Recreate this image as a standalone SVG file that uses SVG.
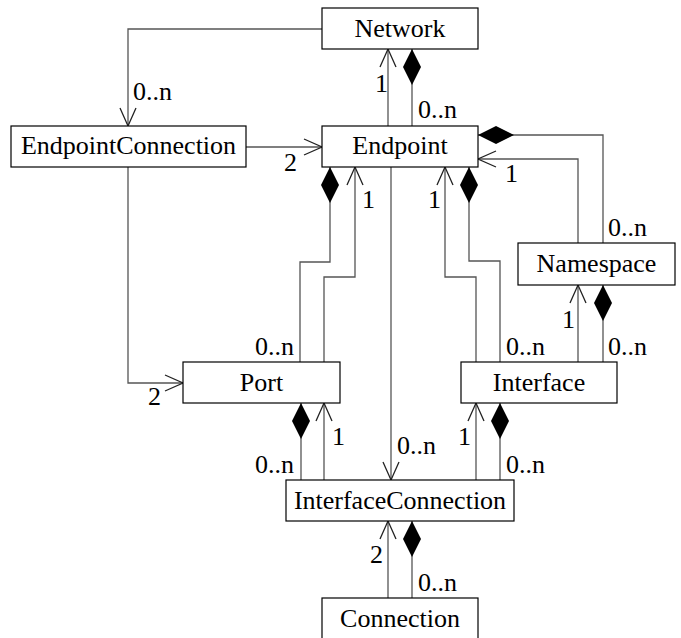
<svg xmlns="http://www.w3.org/2000/svg" width="681" height="638" viewBox="0 0 681 638" font-family="Liberation Serif, DejaVu Serif, serif">
<style>
.box{fill:#fff;stroke:#000;stroke-width:1.2}
.t{font-size:26px;fill:#000}
.c{text-anchor:middle}
.e{text-anchor:end}
.ln{fill:none;stroke:#555;stroke-width:1.3}
.arr{marker-end:url(#arrow)}
.dia{marker-start:url(#diamond)}
</style>
<defs>
<marker id="arrow" markerUnits="userSpaceOnUse" viewBox="-20 -10 22 20" refX="0" refY="0" markerWidth="22" markerHeight="20" orient="auto">
<path d="M-18,-8 L0,0 L-18,8" fill="none" stroke="#222" stroke-width="1.3"/>
</marker>
<marker id="diamond" markerUnits="userSpaceOnUse" viewBox="-1 -10 38 20" refX="0" refY="0" markerWidth="38" markerHeight="20" orient="auto">
<path d="M0,0 L18,-9 L36,0 L18,9 Z" fill="#000"/>
</marker>
</defs>
<g id="connectors">
<path class="ln arr" d="M322,29 H128 V126"/>
<path class="ln arr" d="M246,147 H322"/>
<path class="ln arr" d="M388,126 V49"/>
<path class="ln dia" d="M412,49 V126"/>
<path class="ln dia" d="M478,135 H603 V243"/>
<path class="ln arr" d="M578,243 V159 H478"/>
<path class="ln arr" d="M324,362 V277 H355 V167"/>
<path class="ln dia" d="M330,167 V262 H300 V362"/>
<path class="ln arr" d="M391,167 V480"/>
<path class="ln arr" d="M476,362 V277 H445 V167"/>
<path class="ln dia" d="M469,167 V261 H500 V362"/>
<path class="ln arr" d="M578,362 V285"/>
<path class="ln dia" d="M603,285 V362"/>
<path class="ln arr" d="M128,167 V383 H183"/>
<path class="ln arr" d="M324,480 V403"/>
<path class="ln dia" d="M301,403 V480"/>
<path class="ln arr" d="M476,480 V403"/>
<path class="ln dia" d="M500,403 V480"/>
<path class="ln arr" d="M388,598 V521"/>
<path class="ln dia" d="M412,521 V598"/>
<text class="t" x="133" y="100">0..n</text>
<text class="t" x="284" y="171">2</text>
<text class="t" x="375" y="92">1</text>
<text class="t" x="418" y="118">0..n</text>
<text class="t" x="608" y="236">0..n</text>
<text class="t" x="505" y="182">1</text>
<text class="t" x="362" y="208">1</text>
<text class="t e" x="294" y="355">0..n</text>
<text class="t" x="397" y="454">0..n</text>
<text class="t" x="428" y="208">1</text>
<text class="t" x="506" y="355">0..n</text>
<text class="t" x="562" y="328">1</text>
<text class="t" x="608" y="355">0..n</text>
<text class="t" x="148" y="405">2</text>
<text class="t" x="332" y="445">1</text>
<text class="t e" x="294" y="473">0..n</text>
<text class="t" x="458" y="445">1</text>
<text class="t" x="506" y="473">0..n</text>
<text class="t" x="370" y="563">2</text>
<text class="t" x="418" y="591">0..n</text>
</g>
<g id="Network"><rect class="box" x="322" y="8" width="156" height="41"/><text class="t c" x="400" y="37">Network</text></g>
<g id="EndpointConnection"><rect class="box" x="11" y="126" width="235" height="41"/><text class="t c" x="128.5" y="154">EndpointConnection</text></g>
<g id="Endpoint"><rect class="box" x="322" y="126" width="156" height="41"/><text class="t c" x="400" y="154">Endpoint</text></g>
<g id="Namespace"><rect class="box" x="518" y="243" width="157" height="42"/><text class="t c" x="596.5" y="272">Namespace</text></g>
<g id="Port"><rect class="box" x="183" y="362" width="157" height="41"/><text class="t c" x="261.5" y="391">Port</text></g>
<g id="Interface"><rect class="box" x="461" y="362" width="156" height="41"/><text class="t c" x="539" y="391">Interface</text></g>
<g id="InterfaceConnection"><rect class="box" x="286" y="480" width="228" height="41"/><text class="t c" x="400" y="509">InterfaceConnection</text></g>
<g id="Connection"><rect class="box" x="322" y="598" width="156" height="41"/><text class="t c" x="400" y="627">Connection</text></g>
</svg>
